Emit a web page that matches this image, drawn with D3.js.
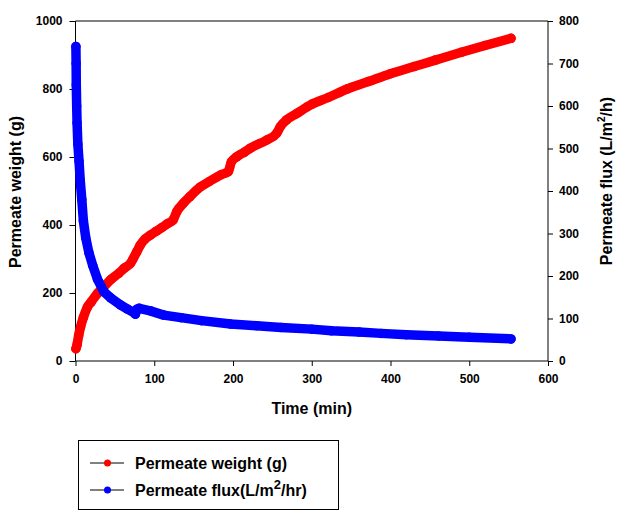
<!DOCTYPE html>
<html>
<head>
<meta charset="utf-8">
<script src="https://cdn.jsdelivr.net/npm/d3@7"></script>
<style>
  html, body { margin: 0; padding: 0; background: #fff; }
  svg { display: block; }
  text { font-family: Arial, "Liberation Sans", sans-serif; font-weight: bold; fill: #000; }
</style>
</head>
<body>
<svg id="chart" width="620" height="520"></svg>
<script>
// ---- Data ----
const weightTime = [0.5, 2, 4, 6.4, 10, 15, 20, 28, 35, 45, 55, 62, 70, 73, 78, 82, 88, 95, 102, 110, 117, 124, 128.5, 137, 145, 158, 170, 185, 194, 198, 205, 215, 222, 243, 255.5, 260, 268, 281, 300, 321, 345, 372, 400, 430, 457, 490, 520, 553];
const weightValues = [36, 48, 75, 100, 128, 158, 174, 199, 216, 240, 258, 273, 288, 300, 322, 340, 358, 370, 381, 393, 404, 415, 439, 464, 483, 511, 528, 548, 557, 586, 601, 615, 626, 650, 670, 689, 709, 728, 755, 775, 800, 822, 845, 866, 885, 908, 928, 949];

const fluxTime = [0.5, 0.8, 1, 1.5, 2, 3, 4.5, 6, 8, 10, 13, 17, 22, 28, 36, 45, 57, 66, 74, 76, 78, 81, 95, 112, 134, 160, 197, 230, 261, 300, 325, 360, 388, 420, 461, 500, 553];
const fluxValues = [740, 700, 650, 600, 560, 510, 470, 425, 380, 330, 290, 255, 224, 192, 163, 148, 132, 122, 114, 110, 122, 124, 118, 108, 102, 95, 87, 83, 79, 75, 71, 68, 65, 62, 59, 56, 52];

const xTicks = [0, 100, 200, 300, 400, 500, 600];
const leftTicks = [0, 200, 400, 600, 800, 1000];
const rightTicks = [0, 100, 200, 300, 400, 500, 600, 700, 800];

const seriesNames = ["Permeate weight (g)", "Permeate flux(L/m", "2", "/hr)"];
const colors = ["#ff0000", "#0000ff"];

// ---- Layout ----
const svg = d3.select("#chart");
const L = 75.5, R = 548, T = 21, B = 361;

const x = d3.scaleLinear().domain([0, 600]).range([L, R]);
const yL = d3.scaleLinear().domain([0, 1000]).range([B, T]);
const yR = d3.scaleLinear().domain([0, 800]).range([B, T]);

// top border of plot area
svg.append("line").attr("x1", L).attr("x2", R).attr("y1", T).attr("y2", T)
  .attr("stroke", "#000").attr("stroke-width", 1);

// axes
const fmt = d3.format("d");
const gx = svg.append("g").attr("transform", `translate(0,${B})`)
  .call(d3.axisBottom(x).tickValues(xTicks).tickFormat(fmt).tickSize(5).tickPadding(8));
const gl = svg.append("g").attr("transform", `translate(${L},0)`)
  .call(d3.axisLeft(yL).tickValues(leftTicks).tickFormat(fmt).tickSize(6).tickPadding(7));
const gr = svg.append("g").attr("transform", `translate(${R},0)`)
  .call(d3.axisRight(yR).tickValues(rightTicks).tickFormat(fmt).tickSize(5).tickPadding(6));

[gx, gl, gr].forEach(g => {
  g.select(".domain").attr("stroke", "#000").attr("stroke-width", 1);
  g.selectAll(".tick line").attr("stroke", "#000");
  g.selectAll(".tick text").attr("font-size", "12px").attr("font-weight", "bold")
    .attr("font-family", "Arial, 'Liberation Sans', sans-serif").attr("fill", "#000");
});
gx.select(".domain").attr("d", `M${L},0H${R}`);
gl.select(".domain").attr("d", `M0,${T}V${B}`);
gr.select(".domain").attr("d", `M0,${T}V${B}`);

// ---- Series ----
const weightData = weightTime.map((t, i) => [t, weightValues[i]]);
const fluxData = fluxTime.map((t, i) => [t, fluxValues[i]]);

const lineW = d3.line().x(d => x(d[0])).y(d => yL(d[1])).curve(d3.curveMonotoneX);
const lineF = d3.line().x(d => x(d[0])).y(d => yR(d[1])).curve(d3.curveLinear);

function drawSeries(data, line, yScale, color) {
  const g = svg.append("g");
  g.append("path").datum(data).attr("d", line)
    .attr("fill", "none").attr("stroke", color).attr("stroke-width", 9.5)
    .attr("stroke-linecap", "round").attr("stroke-linejoin", "round");
  g.selectAll("circle").data(data).join("circle")
    .attr("cx", d => x(d[0])).attr("cy", d => yScale(d[1])).attr("r", 4.75)
    .attr("fill", color);
}
drawSeries(weightData, lineW, yL, colors[0]);
drawSeries(fluxData, lineF, yR, colors[1]);

// ---- Axis titles ----
svg.append("text").attr("x", (L + R) / 2).attr("y", 414).attr("text-anchor", "middle")
  .attr("font-size", "16px").text("Time (min)");

svg.append("text").attr("transform", "translate(21,192) rotate(-90)")
  .attr("text-anchor", "middle").attr("font-size", "16px").text("Permeate weight (g)");

const rt = svg.append("text").attr("transform", "translate(612,181) rotate(-90)")
  .attr("text-anchor", "middle").attr("font-size", "16px");
rt.append("tspan").text("Permeate flux (L/m");
rt.append("tspan").attr("font-size", "10px").attr("dy", -7).text("2");
rt.append("tspan").attr("dy", 7).text("/h)");

// ---- Legend ----
const lg = svg.append("g");
lg.append("rect").attr("x", 78.5).attr("y", 440.5).attr("width", 260).attr("height", 69)
  .attr("fill", "#fff").attr("stroke", "#000").attr("stroke-width", 1);
const rows = [463, 490];
rows.forEach((yy, i) => {
  lg.append("line").attr("x1", 90).attr("x2", 124).attr("y1", yy).attr("y2", yy)
    .attr("stroke", "#000").attr("stroke-width", 1);
  lg.append("circle").attr("cx", 107.5).attr("cy", yy).attr("r", 3.5).attr("fill", colors[i]);
});
lg.append("text").attr("x", 135).attr("y", rows[0] + 6).attr("font-size", "16px").text(seriesNames[0]);
const t2 = lg.append("text").attr("x", 135).attr("y", rows[1] + 6).attr("font-size", "16px");
t2.append("tspan").text(seriesNames[1]);
t2.append("tspan").attr("font-size", "13px").attr("dy", -7).text(seriesNames[2]);
t2.append("tspan").attr("dy", 7).text(seriesNames[3]);
</script>
</body>
</html>
